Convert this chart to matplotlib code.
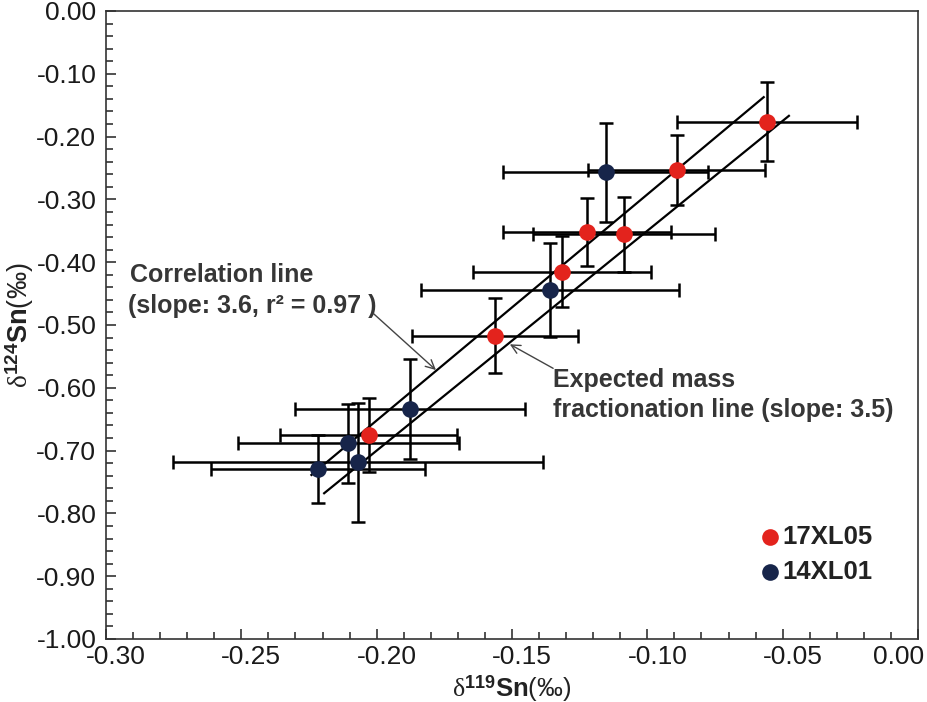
import matplotlib
matplotlib.use("Agg")
import matplotlib.pyplot as plt
from matplotlib.ticker import MultipleLocator, FixedLocator
from matplotlib.transforms import ScaledTranslation

plt.rcParams['font.family'] = ['Liberation Sans', 'DejaVu Sans']
plt.rcParams['mathtext.fontset'] = 'custom'
plt.rcParams['mathtext.rm'] = 'Liberation Serif'
plt.rcParams['mathtext.bf'] = 'Liberation Sans:bold'
plt.rcParams['mathtext.it'] = 'Liberation Serif:italic'

# ---- data ----
red_label = "17XL05"
red_x = [-0.0559, -0.0892, -0.1222, -0.1086, -0.1314, -0.1563, -0.2030]
red_y = [-0.1763, -0.2532, -0.3524, -0.3556, -0.4151, -0.5175, -0.6752]
red_xerr = [0.0332, 0.0326, 0.0311, 0.0337, 0.0329, 0.0306, 0.0328]
red_yerr = [0.0626, 0.0565, 0.0544, 0.0597, 0.0569, 0.0597, 0.0592]

navy_label = "14XL01"
navy_x = [-0.1154, -0.1360, -0.1877, -0.2105, -0.2070, -0.2216]
navy_y = [-0.2568, -0.4443, -0.6342, -0.6884, -0.7186, -0.7293]
navy_xerr = [0.0379, 0.0477, 0.0425, 0.0408, 0.0684, 0.0395]
navy_yerr = [0.0788, 0.0743, 0.0796, 0.0634, 0.0950, 0.0544]

corr_slope, corr_icpt = 3.6, 0.068
corr_xrange = [-0.2241, -0.0570]
exp_slope, exp_icpt = 3.5, 0.0
exp_xrange = [-0.2194, -0.0477]

xticks = [-0.30, -0.25, -0.20, -0.15, -0.10, -0.05, 0.00]
yticks = [0.00, -0.10, -0.20, -0.30, -0.40, -0.50, -0.60, -0.70, -0.80, -0.90, -1.00]

RED = '#e3231d'
NAVY = '#17254a'

fig = plt.figure(figsize=(9.27, 7.02), dpi=100)
ax = fig.add_axes([106/927, 1-639/702, (918-106)/927, (639-11)/702])

# lines
ax.plot(corr_xrange, [corr_slope*x + corr_icpt for x in corr_xrange], color='black', lw=1.6, zorder=2)
ax.plot(exp_xrange, [exp_slope*x + exp_icpt for x in exp_xrange], color='black', lw=1.6, zorder=2)

ebkw = dict(fmt='none', ecolor='black', elinewidth=1.8, capsize=5, capthick=1.8, zorder=3)
ax.errorbar(navy_x, navy_y, xerr=navy_xerr, yerr=navy_yerr, **ebkw)
ax.errorbar(red_x, red_y, xerr=red_xerr, yerr=red_yerr, **ebkw)
ax.plot(navy_x, navy_y, 'o', color=NAVY, ms=12, mec='none', zorder=4)
ax.plot(red_x, red_y, 'o', color=RED, ms=12, mec='none', zorder=4)

ax.set_xlim(-0.30, 0.0)
ax.set_ylim(-1.0, 0.0)
ax.xaxis.set_major_locator(FixedLocator(xticks))
ax.yaxis.set_major_locator(FixedLocator(yticks))
ax.xaxis.set_minor_locator(MultipleLocator(0.01))
ax.yaxis.set_minor_locator(MultipleLocator(0.02))
ax.set_xticklabels([f"{v:.2f}" for v in xticks])
ax.set_yticklabels([f"{v:.2f}" for v in yticks])
ax.tick_params(which='both', direction='in', top=False, right=False, width=1.1, color='#222222')
ax.tick_params(which='major', length=7.5, labelsize=19, labelcolor='#1a1a1a')
ax.tick_params(axis='x', which='major', pad=4)
ax.tick_params(axis='y', which='major', pad=7)
ax.tick_params(which='minor', length=5)
for s in ax.spines.values():
    s.set_linewidth(1.2)
    s.set_color('#333333')

# shift x tick labels as in reference
for tk, v in zip(ax.xaxis.get_major_ticks(), xticks):
    dx = -0.19 if v == 0 else 0.10
    tk.label1.set_transform(tk.label1.get_transform() + ScaledTranslation(dx, 0, fig.dpi_scale_trans))

ax.set_xlabel(r'$\mathrm{\delta}^{\mathbf{119}}\mathbf{Sn}$(‰)', fontsize=18.5, color='#222222', labelpad=3)
ax.set_ylabel(r'$\mathrm{\delta}^{\mathbf{124}}\mathbf{Sn}$(‰)', fontsize=19.5, color='#222222', labelpad=0)

# annotations
tk_ = dict(fontsize=18, fontweight='bold', color='#363636', va='baseline', ha='left')
ax.text(-0.2911, -0.432, "Correlation line", **tk_)
ax.text(-0.2917, -0.4814, "(slope: 3.6, r² = 0.97 )", **tk_)
ax.text(-0.1349, -0.5982, "Expected mass", **tk_)
ax.text(-0.1349, -0.6465, "fractionation line (slope: 3.5)", **tk_)
ax.annotate('', xy=(-0.1781, -0.5717), xytext=(-0.2013, -0.4814),
            arrowprops=dict(arrowstyle='->', color='#444444', lw=1.0, mutation_scale=16, shrinkA=0, shrinkB=0))
ax.annotate('', xy=(-0.1508, -0.5307), xytext=(-0.1348, -0.569),
            arrowprops=dict(arrowstyle='->', color='#444444', lw=1.0, mutation_scale=16, shrinkA=0, shrinkB=0))

# legend (manual, in axes)
ax.plot([-0.0545], [-0.8370], 'o', color=RED, ms=12, mec='none', zorder=5)
ax.plot([-0.0545], [-0.8928], 'o', color=NAVY, ms=12, mec='none', zorder=5)
ax.text(-0.0500, -0.8370, red_label, fontsize=18.5, fontweight='bold', color='#222222', va='center', ha='left')
ax.text(-0.0500, -0.8928, navy_label, fontsize=18.5, fontweight='bold', color='#222222', va='center', ha='left')

fig.savefig("out.png", dpi=100)
